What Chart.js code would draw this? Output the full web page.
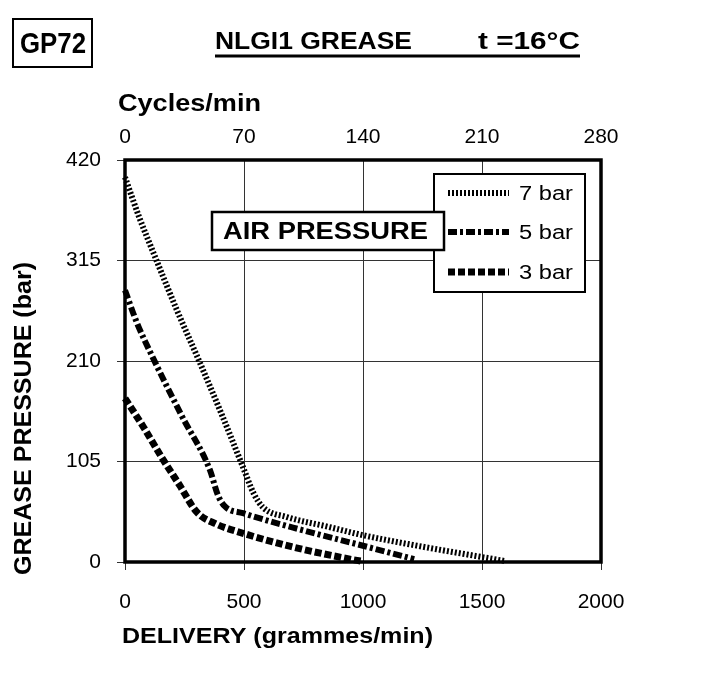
<!DOCTYPE html>
<html>
<head>
<meta charset="utf-8">
<script src="https://cdn.jsdelivr.net/npm/chart.js@4.4.1/dist/chart.umd.min.js"></script>
<style>
  html, body { margin: 0; padding: 0; background: #fff; }
  #wrap { width: 705px; height: 683px; }
</style>
</head>
<body>
<div id="wrap"><canvas id="myChart1" width="705" height="683"></canvas></div>
<script>
// delivery (grammes/min) vs grease pressure (bar)
let bar7x = [0, 60, 126, 220, 315, 410, 496, 540, 580, 680, 850, 1000, 1250, 1504, 1597];
let bar7y = [402, 360, 319, 262, 208, 152, 99, 72, 57, 47, 37, 28, 16, 5, 1];
let bar5x = [0, 50, 118, 240, 357, 390, 420, 496, 750, 1000, 1215];
let bar5y = [284, 250, 213, 152, 96, 70, 58, 51, 33, 17, 3];
let bar3x = [0, 80, 155, 230, 302, 380, 496, 700, 945, 990];
let bar3y = [171, 140, 109, 80, 52, 40, 30, 16, 3, 1];
let seriesLabels = ['7 bar', '5 bar', '3 bar'];
let yTicks = [0, 105, 210, 315, 420];
let xTicks = [0, 500, 1000, 1500, 2000];
let cycleTicks = [0, 70, 140, 210, 280];

function pts(xs, ys) {
    let out = [];
    for (var i = 0; i < xs.length; i++) {
        out.push({ x: xs[i], y: ys[i] });
    }
    return out;
}

const FONT = "'Liberation Sans', Arial, Helvetica, sans-serif";

// draw text squeezed/stretched to a given width (reference uses a condensed Helvetica)
function fitText(c, text, x, y, w, font) {
    c.save();
    c.font = font;
    c.textAlign = 'left';
    c.textBaseline = 'middle';
    let m = c.measureText(text).width;
    c.translate(x, y);
    c.scale(w / m, 1);
    c.fillText(text, 0, 0);
    c.restore();
}

const decor = {
    id: 'decor',
    afterDraw(chart) {
        const c = chart.ctx;
        const a = chart.chartArea;
        c.save();
        c.fillStyle = '#000';
        c.strokeStyle = '#000';
        // plot frame
        c.lineWidth = 3.5;
        c.strokeRect(a.left, a.top, a.right - a.left, a.bottom - a.top);

        // GP72 box
        c.lineWidth = 2;
        c.strokeRect(13, 19, 79, 48);
        fitText(c, 'GP72', 20, 45, 66, "bold 30px " + FONT);

        // title
        fitText(c, 'NLGI1 GREASE', 215, 42, 197, "bold 24px " + FONT);
        fitText(c, 't =16\u00B0C', 478, 42, 102, "bold 24px " + FONT);
        c.lineWidth = 3;
        c.beginPath();
        c.moveTo(215, 56);
        c.lineTo(580, 56);
        c.stroke();

        // axis titles
        fitText(c, 'Cycles/min', 118, 105, 143, "bold 23px " + FONT);
        fitText(c, 'DELIVERY (grammes/min)', 122, 637, 311, "bold 22px " + FONT);
        c.save();
        c.translate(25, 575);
        c.rotate(-Math.PI / 2);
        fitText(c, 'GREASE PRESSURE (bar)', 0, 0, 313, "bold 23px " + FONT);
        c.restore();

        // legend box
        c.fillStyle = '#fff';
        c.fillRect(434, 174, 151, 118);
        c.lineWidth = 2;
        c.strokeRect(434, 174, 151, 118);
        const rows = [193, 232, 272];
        chart.data.datasets.forEach((ds, i) => {
            c.save();
            c.strokeStyle = '#000';
            c.lineWidth = ds.borderWidth;
            c.setLineDash(ds.borderDash);
            c.beginPath();
            c.moveTo(448, rows[i]);
            c.lineTo(509, rows[i]);
            c.stroke();
            c.restore();
            c.fillStyle = '#000';
            fitText(c, ds.label, 519, rows[i] + 1, 54, "20px " + FONT);
        });

        // AIR PRESSURE box
        c.fillStyle = '#fff';
        c.fillRect(212, 212, 232, 38);
        c.lineWidth = 2.5;
        c.strokeRect(212, 212, 232, 38);
        c.fillStyle = '#000';
        fitText(c, 'AIR PRESSURE', 223, 232, 205, "bold 24px " + FONT);
        c.restore();
    }
};

let tickFont = { family: FONT, size: 21 };

let ctx = document.getElementById('myChart1').getContext('2d');
let myChart1 = new Chart(ctx, {
    type: 'line',
    data: {
        datasets: [{
            label: seriesLabels[0],
            data: pts(bar7x, bar7y),
            borderColor: '#000',
            borderWidth: 6,
            borderDash: [2, 2],
            borderCapStyle: 'butt',
            pointRadius: 0,
            cubicInterpolationMode: 'monotone'
        }, {
            label: seriesLabels[1],
            data: pts(bar5x, bar5y),
            borderColor: '#000',
            borderWidth: 6,
            borderDash: [9, 3, 3, 3],
            borderCapStyle: 'butt',
            pointRadius: 0,
            cubicInterpolationMode: 'monotone'
        }, {
            label: seriesLabels[2],
            data: pts(bar3x, bar3y),
            borderColor: '#000',
            borderWidth: 7,
            borderDash: [7, 3],
            borderCapStyle: 'butt',
            pointRadius: 0,
            cubicInterpolationMode: 'monotone'
        }]
    },
    options: {
        responsive: false,
        animation: false,
        clip: false,
        layout: { padding: { left: 0, right: 104, top: 0, bottom: 0 } },
        plugins: {
            legend: { display: false },
            tooltip: { enabled: false }
        },
        scales: {
            x: {
                type: 'linear',
                position: 'bottom',
                min: 0,
                max: 2000,
                afterFit: (s) => { s.height = 121; },
                afterBuildTicks: (s) => { s.ticks = xTicks.map(v => ({ value: v })); },
                ticks: { color: '#000', font: tickFont, padding: 20, maxRotation: 0, callback: (v) => String(v) },
                grid: { color: '#333', lineWidth: 1, tickLength: 8 },
                border: { display: false }
            },
            x2: {
                type: 'linear',
                position: 'top',
                min: 0,
                max: 280,
                afterFit: (s) => { s.height = 160; },
                afterBuildTicks: (s) => { s.ticks = cycleTicks.map(v => ({ value: v })); },
                ticks: { color: '#000', font: tickFont, padding: 10, maxRotation: 0, callback: (v) => String(v) },
                grid: { drawOnChartArea: false, drawTicks: false },
                border: { display: false }
            },
            y: {
                min: 0,
                max: 420,
                afterFit: (s) => { s.width = 125; },
                afterBuildTicks: (s) => { s.ticks = yTicks.map(v => ({ value: v })); },
                ticks: { color: '#000', font: tickFont, padding: 16, callback: (v) => String(v) },
                grid: { color: '#333', lineWidth: 1, tickLength: 8 },
                border: { display: false }
            }
        }
    },
    plugins: [decor]
});
</script>
</body>
</html>
